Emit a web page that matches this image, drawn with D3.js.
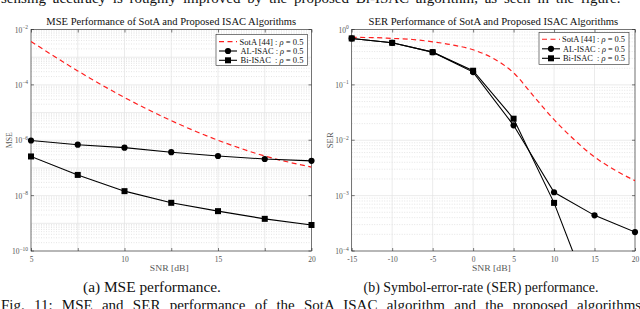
<!DOCTYPE html>
<html><head><meta charset="utf-8">
<script src="https://cdn.jsdelivr.net/npm/d3@7"></script>
<style>
body{margin:0;background:#fff;}
svg{display:block;}
text{font-family:"Liberation Serif","DejaVu Serif",serif;}
</style></head>
<body><svg id="c" width="640" height="309"></svg>
<script>
// ---------- data ----------
const snrMSE = [5, 7.5, 10, 12.5, 15, 17.5, 20];
const mseSotA = [3.7e-3, 3.2e-4, 3.5e-5, 5.1e-6, 1.0e-6, 2.7e-7, 1.07e-7];
const mseAL = [9.8e-7, 6.9e-7, 5.4e-7, 3.7e-7, 2.7e-7, 2.1e-7, 1.8e-7];
const mseBi = [2.6e-7, 5.6e-8, 1.45e-8, 5.5e-9, 2.75e-9, 1.45e-9, 8.7e-10];

const snrSotASER = [-15, -12.5, -10, -7.5, -5, -2.5, 0, 2.5, 5, 7.5, 10, 12.5, 15, 17.5, 20];
const serSotA = [0.72, 0.715, 0.69, 0.66, 0.60, 0.525, 0.43, 0.30, 0.165, 0.062, 0.0235, 0.0102, 0.0050, 0.0029, 0.00186];
const snrSER = [-15, -10, -5, 0, 5, 10, 15, 20];
const serAL = [0.69, 0.575, 0.39, 0.17, 0.0186, 0.00115, 0.00044, 0.00022];
const serBi = [0.69, 0.575, 0.39, 0.18, 0.0245, 0.00074, 0.0000095, null];

const mseXTicks = [5, 7.5, 10, 12.5, 15, 17.5, 20];
const mseXLabels = [5, 10, 15, 20];
const mseYTicks = [-2, -4, -6, -8, -10];
const serXTicks = [-15, -10, -5, 0, 5, 10, 15, 20];
const serYTicks = [0, -1, -2, -3, -4];

const legendNames = ["SotA [44]", "AL-ISAC", "Bi-ISAC"];
const titles = ["MSE Performance of SotA and Proposed ISAC Algorithms", "SER Performance of SotA and Proposed ISAC Algorithms"];
const captions = ["(a) MSE performance.", "(b) Symbol-error-rate (SER) performance."];
const topLine = "sensing accuracy is roughly improved by the proposed Bi-ISAC algorithm, as seen in the figure.";
const bottomLine = "Fig. 11: MSE and SER performance of the SotA ISAC algorithm and the proposed algorithms with";

// ---------- drawing ----------
const svg = d3.select("#c");
const AX = "#262626", GRID = "#e3e3e3", MINOR = "#d4d4d4";

// horizontally fit a text to a target width (scale about its anchor x)
function fit(sel, ax, target){
  const w = sel.node().getComputedTextLength();
  if (w > 0) sel.attr("transform", `translate(${ax},0) scale(${target / w},1) translate(${-ax},0)`);
}

function panel(opt){
  const g = svg.append("g");
  const x = d3.scaleLinear().domain(opt.xdom).range([opt.x0, opt.x1]);
  const y = d3.scaleLog().domain(opt.ydom).range([opt.y1, opt.y0]);
  const id = "clip" + opt.id;
  svg.append("clipPath").attr("id", id).append("rect")
    .attr("x", opt.x0).attr("y", opt.y0).attr("width", opt.x1 - opt.x0).attr("height", opt.y1 - opt.y0);
  const lo = Math.log10(opt.ydom[0]), hi = Math.log10(opt.ydom[1]);
  for (let k = lo; k < hi; k++) for (let m = 2; m <= 9; m++) {
    const yy = y(m * Math.pow(10, k));
    g.append("line").attr("x1", opt.x0).attr("x2", opt.x1).attr("y1", yy).attr("y2", yy)
      .attr("stroke", MINOR).attr("stroke-width", 0.6).attr("stroke-dasharray", "1,1.5");
  }
  for (let k = lo; k <= hi; k++) {
    const yy = y(Math.pow(10, k));
    g.append("line").attr("x1", opt.x0).attr("x2", opt.x1).attr("y1", yy).attr("y2", yy)
      .attr("stroke", GRID).attr("stroke-width", 0.7);
  }
  opt.xticks.forEach(v => {
    g.append("line").attr("x1", x(v)).attr("x2", x(v)).attr("y1", opt.y0).attr("y2", opt.y1)
      .attr("stroke", GRID).attr("stroke-width", 0.7);
  });
  const xa = d3.axisBottom(x).tickValues(opt.xticks).tickSize(-3).tickPadding(6)
    .tickFormat(d => opt.xlabels.includes(d) ? String(d) : "");
  const gx = g.append("g").attr("transform", `translate(0,${opt.y1})`).call(xa);
  gx.select(".domain").remove();
  gx.selectAll("line").attr("stroke", AX).attr("stroke-width", 0.6);
  gx.selectAll("text").attr("fill", "#555").attr("font-size", 7.5)
    .attr("font-family", "Liberation Serif, serif");
  const gxt = g.append("g").attr("transform", `translate(0,${opt.y0})`).call(d3.axisTop(x).tickValues(opt.xticks).tickSize(-3).tickFormat(""));
  gxt.select(".domain").remove();
  gxt.selectAll("line").attr("stroke", AX).attr("stroke-width", 0.6);
  opt.yticks.forEach(k => {
    const yy = y(Math.pow(10, k));
    g.append("line").attr("x1", opt.x0).attr("x2", opt.x0 + 3).attr("y1", yy).attr("y2", yy).attr("stroke", AX).attr("stroke-width", 0.6);
    g.append("line").attr("x1", opt.x1).attr("x2", opt.x1 - 3).attr("y1", yy).attr("y2", yy).attr("stroke", AX).attr("stroke-width", 0.6);
    const t = g.append("text").attr("x", opt.x0 - 3).attr("y", yy + 3).attr("text-anchor", "end")
      .attr("fill", "#555").attr("font-size", 7.5);
    t.append("tspan").text("10");
    t.append("tspan").attr("dy", -3.5).attr("font-size", 5.5).text(k === 0 ? "0" : "\u2212" + (-k));
  });
  g.append("rect").attr("x", opt.x0).attr("y", opt.y0).attr("width", opt.x1 - opt.x0).attr("height", opt.y1 - opt.y0)
    .attr("fill", "none").attr("stroke", AX).attr("stroke-width", 0.6);
  const cx = (opt.x0 + opt.x1) / 2;
  const tt = g.append("text").attr("x", cx).attr("y", 25.5).attr("text-anchor", "middle")
    .attr("font-size", 9.6).attr("fill", "#111").text(opt.title);
  fit(tt, cx, 250);
  const xl = g.append("text").attr("x", cx - 2).attr("y", 271.5).attr("text-anchor", "middle")
    .attr("font-size", 8).attr("fill", "#555").text("SNR [dB]");
  fit(xl, cx - 2, 39);
  g.append("text").attr("transform", `translate(${opt.ylabx},${(opt.y0 + opt.y1) / 2}) rotate(-90)`)
    .attr("text-anchor", "middle").attr("font-size", 8).attr("fill", "#555").attr("textLength", 16).attr("lengthAdjust", "spacingAndGlyphs").text(opt.ylabel);
  const cp = g.append("text").attr("x", opt.capx).attr("y", 292).attr("text-anchor", "middle")
    .attr("font-size", 14.5).attr("fill", "#111").text(opt.caption);
  fit(cp, opt.capx, opt.capw);

  const pg = g.append("g").attr("clip-path", `url(#${id})`);
  const mk = (xs, ys) => xs.map((v, i) => [v, ys[i]]).filter(p => p[1] != null);
  const curve = d3.line().x(d => x(d[0])).y(d => y(d[1])).curve(d3.curveMonotoneX);
  const line = d3.line().x(d => x(d[0])).y(d => y(d[1]));
  pg.append("path").datum(mk(opt.sota[0], opt.sota[1])).attr("d", curve)
    .attr("fill", "none").attr("stroke", "#ff1f1f").attr("stroke-width", 1.2).attr("stroke-dasharray", "5,3.5");
  const al = mk(opt.al[0], opt.al[1]), bi = mk(opt.bi[0], opt.bi[1]);
  pg.append("path").datum(al).attr("d", line).attr("fill", "none").attr("stroke", "#000").attr("stroke-width", 1.1);
  pg.append("path").datum(bi).attr("d", line).attr("fill", "none").attr("stroke", "#000").attr("stroke-width", 1.1);
  const dg = g.append("g");
  al.filter(d => d[1] >= opt.ydom[0]).forEach(d => dg.append("circle").attr("cx", x(d[0])).attr("cy", y(d[1])).attr("r", 3.1).attr("fill", "#000"));
  bi.filter(d => d[1] >= opt.ydom[0]).forEach(d => dg.append("rect").attr("x", x(d[0]) - 3).attr("y", y(d[1]) - 3).attr("width", 6).attr("height", 6).attr("fill", "#000"));

  const L = opt.leg;
  const lg = g.append("g");
  lg.append("rect").attr("x", L.x).attr("y", L.y).attr("width", L.w).attr("height", L.h)
    .attr("fill", "#fff").attr("stroke", AX).attr("stroke-width", 0.6);
  legendNames.forEach((nm, i) => {
    const yy = L.rows[i];
    const l = lg.append("line").attr("x1", L.x + 3).attr("x2", L.x + 21).attr("y1", yy).attr("y2", yy)
      .attr("stroke", i === 0 ? "#ff1f1f" : "#000").attr("stroke-width", 1.1);
    if (i === 0) l.attr("stroke-dasharray", "5,3.5");
    if (i === 1) lg.append("circle").attr("cx", L.x + 12).attr("cy", yy).attr("r", 3.1).attr("fill", "#000");
    if (i === 2) lg.append("rect").attr("x", L.x + 9).attr("y", yy - 3).attr("width", 6).attr("height", 6).attr("fill", "#000");
    const tx = L.x + L.w - 4;
    const t = lg.append("text").attr("x", tx).attr("y", yy + 3).attr("text-anchor", "end")
      .attr("font-size", 8.6).attr("fill", "#111");
    t.append("tspan").text(nm + (i === 2 ? "\u00a0 : " : " : "));
    t.append("tspan").attr("font-style", "italic").text("\u03c1");
    t.append("tspan").text(" = 0.5");
    fit(t, tx, L.tw[i]);
  });
}

panel({id: "a", x0: 31, x1: 311.5, y0: 29.5, y1: 251, xdom: [5, 20], ydom: [1e-10, 1e-2],
  xticks: mseXTicks, xlabels: mseXLabels, yticks: mseYTicks,
  title: titles[0], ylabel: "MSE", ylabx: 12, caption: captions[0], capx: 152, capw: 138,
  sota: [snrMSE, mseSotA], al: [snrMSE, mseAL], bi: [snrMSE, mseBi],
  leg: {x: 216, y: 34.5, w: 91.5, h: 31, rows: [41.6, 51, 60.3], tw: [64, 63, 63]}});

panel({id: "b", x0: 351.7, x1: 635, y0: 29.5, y1: 251, xdom: [-15, 20], ydom: [1e-4, 1],
  xticks: serXTicks, xlabels: serXTicks, yticks: serYTicks,
  title: titles[1], ylabel: "SER", ylabx: 333, caption: captions[1], capx: 481, capw: 235,
  sota: [snrSotASER, serSotA], al: [snrSER, serAL], bi: [snrSER, serBi],
  leg: {x: 539, y: 32.3, w: 90, h: 32, rows: [39.3, 48.8, 58.3], tw: [63, 62, 62]}});

// cut-off surrounding paper text
svg.append("text").attr("x", 1).attr("y", 3).attr("font-size", 15).attr("word-spacing", 3).attr("fill", "#111").text(topLine);
svg.append("text").attr("x", 1).attr("y", 310).attr("font-size", 15).attr("word-spacing", 5.5).attr("fill", "#111").text(bottomLine);
</script></body></html>
